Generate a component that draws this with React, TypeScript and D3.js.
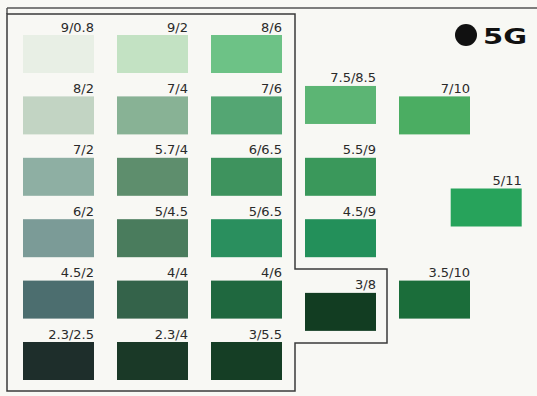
import React from "react";
import * as d3 from "d3";

const labels = [
  "9/0.8", "9/2", "8/6",
  "8/2", "7/4", "7/6",
  "7/2", "5.7/4", "6/6.5",
  "6/2", "5/4.5", "5/6.5",
  "4.5/2", "4/4", "4/6",
  "2.3/2.5", "2.3/4", "3/5.5",
  "7.5/8.5", "7/10", "5.5/9", "5/11", "4.5/9", "3.5/10", "3/8",
];
const colors = [
  "#e8efe5", "#c3e2c3", "#6dc286",
  "#c2d4c3", "#88b295", "#54a673",
  "#8eafa3", "#5e8e6d", "#3e935e",
  "#7b9b97", "#4a7c5d", "#2a8f5e",
  "#4c6e6f", "#34634a", "#1f683f",
  "#1e2e2b", "#1a3927", "#153e25",
  "#5cb574", "#4bad62", "#3a985b", "#27a35b", "#23905a", "#1b6d3a", "#123d22",
];
// grid slot (column, row) of each chip on the sheet
const gridCol = [0, 1, 2, 0, 1, 2, 0, 1, 2, 0, 1, 2, 0, 1, 2, 0, 1, 2, 3, 4, 3, 4.55, 3, 4, 3];
const gridRow = [0, 0, 0, 1, 1, 1, 2, 2, 2, 3, 3, 3, 4, 4, 4, 5, 5, 5, 0.83, 1, 2, 2.5, 3, 4, 4.2];
const hueTitle = "5G";

export default function App() {
  const W = 537, H = 396;
  const x = d3.scaleLinear().domain([0, 1]).range([23, 117]);
  const y = d3.scaleLinear().domain([0, 1]).range([35, 96.4]);
  const cw = 71, ch = 38;
  const frame = d3.path();
  frame.moveTo(7, 14);
  frame.lineTo(295, 14);
  frame.lineTo(295, 269);
  frame.lineTo(387, 269);
  frame.lineTo(387, 343);
  frame.lineTo(295, 343);
  frame.lineTo(295, 391);
  frame.lineTo(7, 391);
  frame.closePath();
  return (
    <svg width={W} height={H} style={{ position: "absolute", left: 0, top: 0, display: "block" }}>
      <rect x={0} y={0} width={W} height={H} fill="#f8f8f4" />
      <line x1={7} x2={W} y1={8} y2={8} stroke="#555" strokeWidth={1.5} />
      <line x1={7} x2={7} y1={8} y2={14} stroke="#555" strokeWidth={1.5} />
      <path d={frame.toString()} fill="none" stroke="#3a3a3a" strokeWidth={1.5} />
      {labels.map((lab, i) => (
        <g key={lab}>
          <rect x={x(gridCol[i])} y={y(gridRow[i])} width={cw} height={ch} fill={colors[i]} />
          <text
            x={x(gridCol[i]) + cw}
            y={y(gridRow[i]) - 3.5}
            textAnchor="end"
            fontFamily="DejaVu Sans, sans-serif"
            fontSize={13}
            fill="#2a2a2a"
          >
            {lab}
          </text>
        </g>
      ))}
      <circle cx={466} cy={35} r={11} fill="#111" />
      <text x={483} y={43.5} fontFamily="DejaVu Sans, sans-serif" fontWeight="bold" fontSize={21} fill="#111" textLength={44} lengthAdjust="spacingAndGlyphs">
        {hueTitle}
      </text>
    </svg>
  );
}
